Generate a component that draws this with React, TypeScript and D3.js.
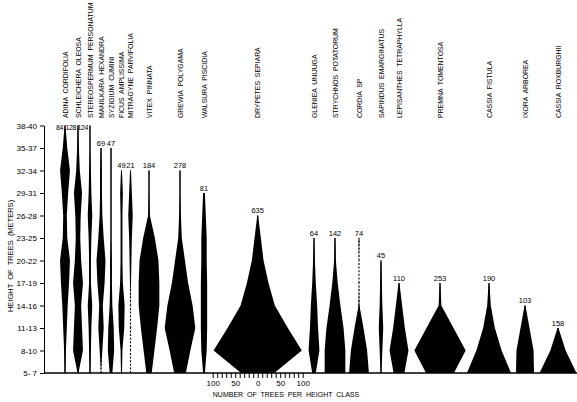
import * as d3 from 'd3';
import React, { useEffect, useRef } from 'react';

// height classes, bottom to top
const heightClasses = ['5- 7', '8-10', '11-13', '14-16', '17-19', '20-22', '23-25', '26-28', '29-31', '32-34', '35-37', '38-40'];

const speciesNames = [
  'ADINA  CORDIFOLIA', 'SCHLEICHERA  OLEOSA', 'STEREOSPERMUM  PERSONATUM', 'MANILKARA  HEXANDRA',
  'SYZIGIUM  CUMINI', 'FICUS  AMPLISSIMA', 'MITRAGYNE  PARVIFOLIA', 'VITEX  PINNATA', 'GREWIA  POLYGAMA',
  'WALSURA  PISCIDIA', 'DRYPETES  SEPIARA', 'GLENIEA  UNIJUGA', 'STRYCHNOS  POTATORUM', 'CORDIA  SP',
  'SAPINDUS  EMARGINATUS', 'LEPISANTHES  TETRAPHYLLA', 'PREMNA  TOMENTOSA', 'CASSIA  FISTULA',
  'IXORA  ARBOREA', 'CASSIA  ROXBURGHII'
];

const totals = [84, 128, 124, 69, 47, 49, 21, 184, 278, 81, 635, 64, 142, 74, 45, 110, 253, 190, 103, 158];

// trees per height class (from 5-7 upward), 0 = class empty
const treesPerClass = [
  [1, 2, 4, 6, 9, 11, 5, 4, 7, 11, 5, 1],      // adina
  [1, 11, 9, 7, 11, 7, 5, 6, 9, 4, 2, 1],      // schleichera
  [1, 2, 3, 5, 2, 2, 3, 5, 3, 2, 1, 1],        // stereospermum
  [0, 3, 6, 4, 8, 10, 6, 3, 2, 2, 1],          // manilkara
  [3, 7, 6, 3, 2, 2, 1, 1, 1, 1, 1],           // syzigium
  [1, 2, 6, 7, 3, 2, 2, 2, 3, 1],              // ficus
  [0, 0, 0, 0, 1, 2, 3, 5, 3, 1],              // mitragyne
  [6, 12, 18, 23, 23, 21, 13, 2, 1, 1],        // vitex
  [13, 23, 34, 28, 18, 11, 4, 2, 1, 1],        // grewia
  [2, 6, 7, 7, 7, 6, 6, 4, 2],                 // walsura
  [37, 98, 67, 38, 24, 13, 7, 1],              // drypetes
  [4, 12, 9, 7, 4, 2, 1],                      // gleniea
  [23, 23, 19, 12, 6, 2, 1],                   // strychnos
  [22, 18, 10, 1, 0, 0, 1],                    // cordia
  [1, 3, 5, 3, 2, 1],                          // sapindus
  [12, 21, 13, 7, 1],                          // lepisanthes
  [31, 57, 30, 3, 1],                          // premna
  [49, 28, 13, 4, 1],                          // cassia fistula
  [20, 19, 10, 1],                             // ixora
  [41, 17, 1]                                  // cassia roxburghii
];

// horizontal placement of each kite (layout, px)
const speciesX = [65, 78, 90, 101, 111, 121.5, 130.5, 149, 180, 204, 257.7, 314, 335, 359, 381, 399, 440, 489, 525, 558];

const scaleTicks = d3.range(-100, 101, 10);

const KiteChart = () => {
  const ref = useRef(null);

  useEffect(() => {
    const svg = d3.select(ref.current);
    svg.selectAll('*').remove();

    const font = 'Liberation Sans, Arial, sans-serif';
    const y = d3.scalePoint().domain(heightClasses).range([373, 125.5]);
    const halfW = d3.scaleLinear().domain([0, 100]).range([0, 45]);

    // y axis
    svg.append('g')
      .attr('transform', 'translate(44,0)')
      .call(d3.axisLeft(y).tickSizeInner(4).tickSizeOuter(0).tickPadding(3))
      .call(g => g.selectAll('text').attr('font-size', 8).attr('font-family', font).attr('fill', '#000'))
      .call(g => g.selectAll('line,path').attr('stroke', '#000'));

    svg.append('text')
      .attr('transform', 'translate(13,256) rotate(-90)')
      .attr('text-anchor', 'middle')
      .attr('font-size', 7.5)
      .attr('font-family', font)
      .style('white-space', 'pre')
      .text('HEIGHT  OF  TREES  (METERS)');

    // kites
    const area = d3.area()
      .y(d => d.y)
      .x0(d => d.cx - halfW(d.v))
      .x1(d => d.cx + halfW(d.v));

    treesPerClass.forEach((vals, i) => {
      const cx = speciesX[i];
      const pts = vals.map((v, k) => ({ y: y(heightClasses[k]), v, cx }));
      const top = vals.length - 1;

      svg.append('path')
        .attr('d', area(pts))
        .attr('fill', '#000');

      // centre stem, dashed across empty classes
      for (let k = 0; k < top; k++) {
        const dashed = vals[k] === 0 || vals[k + 1] === 0;
        svg.append('line')
          .attr('x1', cx).attr('x2', cx)
          .attr('y1', pts[k].y).attr('y2', pts[k + 1].y)
          .attr('stroke', '#000')
          .attr('stroke-width', 1.1)
          .attr('stroke-dasharray', dashed ? '2,1.6' : null);
      }

      // total count
      const atTop = top === heightClasses.length - 1;
      svg.append('text')
        .attr('x', atTop ? cx - 2 : cx)
        .attr('y', atTop ? 130 : pts[top].y - 2.5)
        .attr('text-anchor', atTop ? 'end' : 'middle')
        .attr('font-size', atTop ? 7 : 7.5)
        .attr('letter-spacing', atTop ? -0.4 : 0)
        .attr('font-family', font)
        .text(totals[i]);

      // species name
      svg.append('text')
        .attr('transform', `translate(${cx + 2.5},118) rotate(-90)`)
        .attr('font-size', 6.9)
        .attr('font-family', font)
        .style('white-space', 'pre')
        .text(speciesNames[i]);
    });

    // ground line
    svg.append('line')
      .attr('x1', 44).attr('x2', 577)
      .attr('y1', 373).attr('y2', 373)
      .attr('stroke', '#000')
      .attr('stroke-width', 1.5);

    // width scale under drypetes
    const cnt = d3.scaleLinear().domain([-100, 100]).range([257.7 - 45, 257.7 + 45]);
    svg.append('g')
      .attr('transform', 'translate(0,373)')
      .call(d3.axisBottom(cnt).tickValues(scaleTicks).tickSize(5).tickPadding(2)
        .tickFormat(d => (d % 50 === 0 ? String(Math.abs(d)) : '')))
      .call(g => g.select('.domain').remove())
      .call(g => g.selectAll('line').attr('stroke', '#000'))
      .call(g => g.selectAll('text').attr('font-size', 8).attr('font-family', font).attr('fill', '#000'));

    svg.append('text')
      .attr('x', 286).attr('y', 397)
      .attr('text-anchor', 'middle')
      .attr('font-size', 7)
      .attr('font-family', font)
      .style('white-space', 'pre')
      .text('NUMBER  OF  TREES  PER  HEIGHT  CLASS');
  }, []);

  return (
    <svg ref={ref} width={577} height={402}
      style={{ position: 'absolute', left: 0, top: 0, background: '#fff' }} />
  );
};

export default function App() {
  return <KiteChart />;
}
